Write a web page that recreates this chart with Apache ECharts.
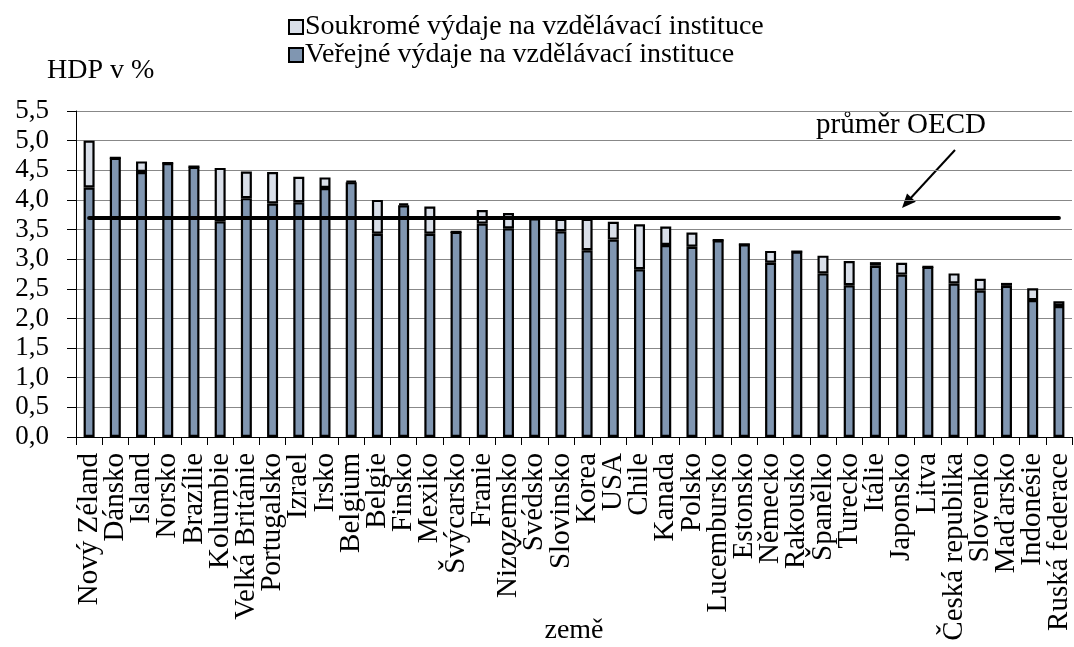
<!DOCTYPE html>
<html><head><meta charset="utf-8">
<script src="https://cdn.jsdelivr.net/npm/echarts@6/dist/echarts.min.js"></script>
<style>html,body{margin:0;padding:0;background:#fff}#c{width:1074px;height:647px}</style>
</head><body><div id="c"></div>
<script>
const categories = ['Nový Zéland','Dánsko','Island','Norsko','Brazílie','Kolumbie','Velká Británie','Portugalsko','Izrael','Irsko','Belgium','Belgie','Finsko','Mexiko','Švýcarsko','Franie','Nizozemsko','Švédsko','Slovinsko','Korea','USA','Chile','Kanada','Polsko','Lucembursko','Estonsko','Německo','Rakousko','Španělko','Turecko','Itálie','Japonsko','Litva','Česká republika','Slovenko','Maďarsko','Indonésie','Ruská federace'];
const publicVals = [4.21,4.71,4.47,4.62,4.56,3.64,4.03,3.94,3.96,4.20,4.30,3.43,3.91,3.43,3.46,3.60,3.52,3.69,3.47,3.15,3.33,2.83,3.24,3.21,3.32,3.25,2.94,3.13,2.76,2.56,2.89,2.74,2.87,2.59,2.47,2.55,2.31,2.21];
const privateVals = [0.79,0,0.18,0,0,0.90,0.45,0.53,0.43,0.18,0.02,0.57,0.03,0.46,0,0.23,0.26,0,0.21,0.53,0.30,0.76,0.31,0.24,0,0,0.20,0,0.30,0.41,0.06,0.20,0,0.17,0.20,0.05,0.20,0.08];
const oecdAverage = 3.7;
const seriesNames = ['Soukromé výdaje na vzdělávací instituce','Veřejné výdaje na vzdělávací instituce'];

const FONT = "'Liberation Serif','Times New Roman',serif";
const chart = echarts.init(document.getElementById('c'));
chart.setOption({
  animation: false,
  textStyle: {fontFamily: FONT, color: '#000'},
  grid: {left: 76, right: 2, top: 111, bottom: 210, outerBoundsMode: 'none', containLabel: false},
  legend: {
    data: seriesNames, orient: 'vertical', left: 283, top: 8,
    itemWidth: 14, itemHeight: 14, itemGap: 0, icon: 'rect',
    textStyle: {fontFamily: FONT, fontSize: 28, lineHeight: 25, color: '#000', padding: [0,0,0,-3]}
  },
  xAxis: {
    type: 'category', data: categories,
    name: 'země', nameLocation: 'middle', nameGap: 180, nameMoveOverlap: false,
    nameTextStyle: {fontFamily: FONT, fontSize: 28, color: '#000'},
    axisLine: {lineStyle: {color: '#000', width: 1}},
    axisTick: {show: true, length: 8, lineStyle: {color: '#000'}},
    axisLabel: {rotate: 90, fontSize: 29, fontFamily: FONT, color: '#000', margin: 16, interval: 0}
  },
  yAxis: {
    type: 'value', min: 0, max: 5.5, interval: 0.5,
    axisLine: {show: true, lineStyle: {color: '#000', width: 1}},
    axisTick: {show: true, length: 9, lineStyle: {color: '#000'}},
    axisLabel: {fontSize: 27, fontFamily: FONT, color: '#000', margin: 27,
      formatter: v => v.toFixed(1).replace('.', ',')},
    splitLine: {lineStyle: {color: '#888', width: 1}}
  },
  series: [
    {
      name: seriesNames[1], type: 'bar', stack: 'a', data: publicVals, barWidth: 11,
      itemStyle: {color: '#8096B1', borderColor: '#000', borderWidth: 2.2},
      markLine: {
        silent: true, symbol: 'none', label: {show: false},
        lineStyle: {color: '#000', width: 4, type: 'solid', cap: 'round'},
        data: [[{coord: [0, oecdAverage]}, {coord: [categories.length - 1, oecdAverage]}]]
      }
    },
    {
      name: seriesNames[0], type: 'bar', stack: 'a', data: privateVals, barWidth: 11,
      itemStyle: {color: '#D9DFE9', borderColor: '#000', borderWidth: 2.2}
    }
  ],
  graphic: [
    {type: 'text', left: 47, top: 57, style: {text: 'HDP v %', font: "28px " + FONT, fill: '#000'}},
    {type: 'text', left: 816, top: 111, style: {text: 'průměr OECD', font: "29px " + FONT, fill: '#000'}},
    {type: 'line', shape: {x1: 955, y1: 150, x2: 908, y2: 201}, style: {stroke: '#000', lineWidth: 2}},
    {type: 'polygon', shape: {points: [[902,208],[915.8,201.7],[907.0,193.6]]}, style: {fill: '#000'}}
  ]
});
</script></body></html>
